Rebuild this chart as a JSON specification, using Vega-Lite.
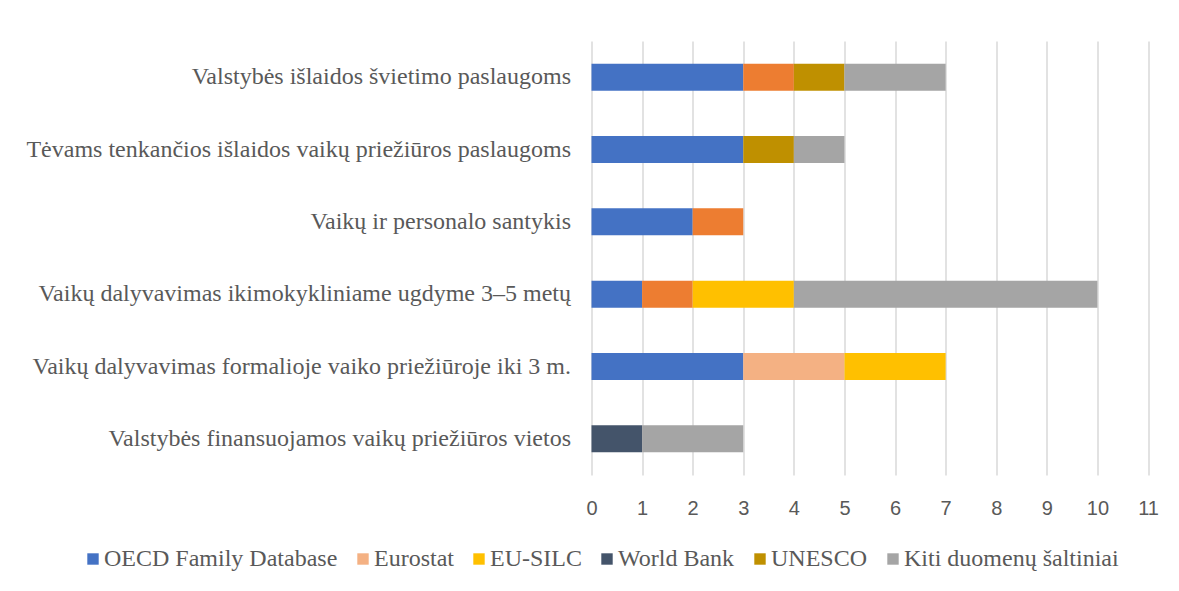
{
  "$schema": "https://vega.github.io/schema/vega-lite/v6.json",
  "width": 556.5,
  "height": 434,
  "autosize": {"type": "none"},
  "padding": {"left": 591.5, "top": 41, "right": 31, "bottom": 116},
  "background": "white",
  "config": {
    "view": {"stroke": null},
    "axis": {"labelColor": "#595959"},
    "legend": {"labelColor": "#595959"}
  },
  "data": {
    "values": [
      {"rodiklis": "Valstybės išlaidos švietimo paslaugoms", "saltinis": "OECD Family Database", "kiekis": 3},
      {"rodiklis": "Valstybės išlaidos švietimo paslaugoms", "saltinis": "Kitas šaltinis", "kiekis": 1},
      {"rodiklis": "Valstybės išlaidos švietimo paslaugoms", "saltinis": "UNESCO", "kiekis": 1},
      {"rodiklis": "Valstybės išlaidos švietimo paslaugoms", "saltinis": "Kiti duomenų šaltiniai", "kiekis": 2},
      {"rodiklis": "Tėvams tenkančios išlaidos vaikų priežiūros paslaugoms", "saltinis": "OECD Family Database", "kiekis": 3},
      {"rodiklis": "Tėvams tenkančios išlaidos vaikų priežiūros paslaugoms", "saltinis": "UNESCO", "kiekis": 1},
      {"rodiklis": "Tėvams tenkančios išlaidos vaikų priežiūros paslaugoms", "saltinis": "Kiti duomenų šaltiniai", "kiekis": 1},
      {"rodiklis": "Vaikų ir personalo santykis", "saltinis": "OECD Family Database", "kiekis": 2},
      {"rodiklis": "Vaikų ir personalo santykis", "saltinis": "Kitas šaltinis", "kiekis": 1},
      {"rodiklis": "Vaikų dalyvavimas ikimokykliniame ugdyme 3–5 metų ", "saltinis": "OECD Family Database", "kiekis": 1},
      {"rodiklis": "Vaikų dalyvavimas ikimokykliniame ugdyme 3–5 metų ", "saltinis": "Kitas šaltinis", "kiekis": 1},
      {"rodiklis": "Vaikų dalyvavimas ikimokykliniame ugdyme 3–5 metų ", "saltinis": "EU-SILC", "kiekis": 2},
      {"rodiklis": "Vaikų dalyvavimas ikimokykliniame ugdyme 3–5 metų ", "saltinis": "Kiti duomenų šaltiniai", "kiekis": 6},
      {"rodiklis": "Vaikų dalyvavimas formalioje vaiko priežiūroje iki 3 m.", "saltinis": "OECD Family Database", "kiekis": 3},
      {"rodiklis": "Vaikų dalyvavimas formalioje vaiko priežiūroje iki 3 m.", "saltinis": "Eurostat", "kiekis": 2},
      {"rodiklis": "Vaikų dalyvavimas formalioje vaiko priežiūroje iki 3 m.", "saltinis": "EU-SILC", "kiekis": 2},
      {"rodiklis": "Valstybės finansuojamos vaikų priežiūros vietos", "saltinis": "World Bank", "kiekis": 1},
      {"rodiklis": "Valstybės finansuojamos vaikų priežiūros vietos", "saltinis": "Kiti duomenų šaltiniai", "kiekis": 2}
    ]
  },
  "transform": [
    {"calculate": "indexof(['OECD Family Database', 'Kitas šaltinis', 'Eurostat', 'EU-SILC', 'World Bank', 'UNESCO', 'Kiti duomenų šaltiniai'], datum.saltinis)", "as": "eile"}
  ],
  "mark": {"type": "bar"},
  "encoding": {
    "y": {
      "field": "rodiklis",
      "type": "nominal",
      "sort": [
        "Valstybės išlaidos švietimo paslaugoms",
        "Tėvams tenkančios išlaidos vaikų priežiūros paslaugoms",
        "Vaikų ir personalo santykis",
        "Vaikų dalyvavimas ikimokykliniame ugdyme 3–5 metų ",
        "Vaikų dalyvavimas formalioje vaiko priežiūroje iki 3 m.",
        "Valstybės finansuojamos vaikų priežiūros vietos"
      ],
      "scale": {"paddingInner": 0.627, "paddingOuter": 0.3135},
      "axis": {
        "title": null,
        "ticks": false,
        "domain": false,
        "labelFont": "Liberation Serif",
        "labelFontSize": 24,
        "labelPadding": 21,
        "labelLimit": 700
      }
    },
    "x": {
      "field": "kiekis",
      "type": "quantitative",
      "stack": "zero",
      "scale": {"domain": [0, 11], "nice": false},
      "axis": {
        "title": null,
        "values": [0, 1, 2, 3, 4, 5, 6, 7, 8, 9, 10, 11],
        "grid": true,
        "gridColor": "#d9d9d9",
        "gridWidth": 1.5,
        "ticks": false,
        "domain": false,
        "labelFont": "Liberation Sans",
        "labelFontSize": 20,
        "labelPadding": 23,
        "labelFlush": false
      }
    },
    "order": {"field": "eile", "type": "quantitative", "sort": "ascending"},
    "color": {
      "field": "saltinis",
      "type": "nominal",
      "scale": {
        "domain": ["OECD Family Database", "Kitas šaltinis", "Eurostat", "EU-SILC", "World Bank", "UNESCO", "Kiti duomenų šaltiniai"],
        "range": ["#4472C4", "#ED7D31", "#F4B183", "#FFC000", "#44546A", "#BF9000", "#A5A5A5"]
      },
      "legend": {
        "title": null,
        "values": ["OECD Family Database", "Eurostat", "EU-SILC", "World Bank", "UNESCO", "Kiti duomenų šaltiniai"],
        "orient": "none",
        "legendX": -510.5,
        "legendY": 506,
        "direction": "horizontal",
        "columns": 6,
        "symbolType": "square",
        "symbolSize": 130,
        "symbolStrokeWidth": 0,
        "labelFont": "Liberation Serif",
        "labelFontSize": 24,
        "labelOffset": -1,
        "columnPadding": 13,
        "labelLimit": 400
      }
    }
  }
}
